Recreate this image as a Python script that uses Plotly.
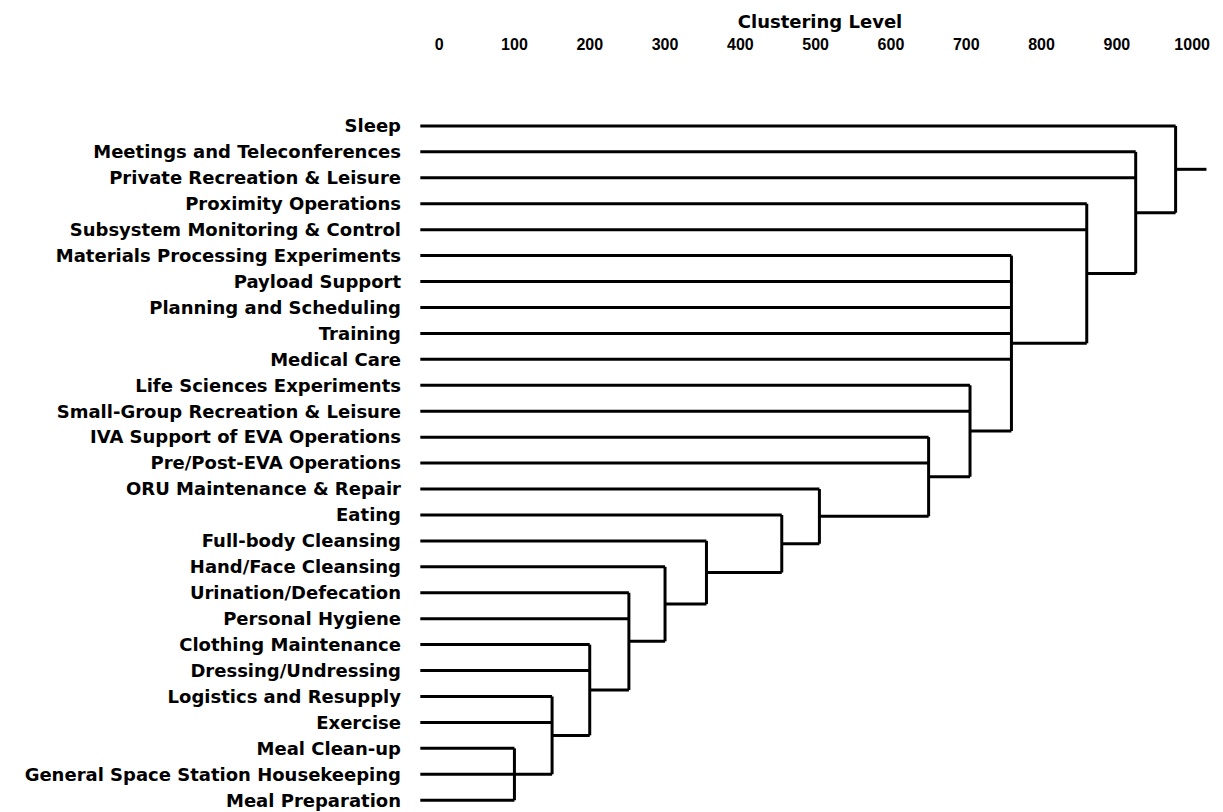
import plotly.graph_objects as go

# leaves, top to bottom
ACTIVIDADES = [
    "Sleep",
    "Meetings and Teleconferences",
    "Private Recreation & Leisure",
    "Proximity Operations",
    "Subsystem Monitoring & Control",
    "Materials Processing Experiments",
    "Payload Support",
    "Planning and Scheduling",
    "Training",
    "Medical Care",
    "Life Sciences Experiments",
    "Small-Group Recreation & Leisure",
    "IVA Support of EVA Operations",
    "Pre/Post-EVA Operations",
    "ORU Maintenance & Repair",
    "Eating",
    "Full-body Cleansing",
    "Hand/Face Cleansing",
    "Urination/Defecation",
    "Personal Hygiene",
    "Clothing Maintenance",
    "Dressing/Undressing",
    "Logistics and Resupply",
    "Exercise",
    "Meal Clean-up",
    "General Space Station Housekeeping",
    "Meal Preparation",
]

# clusters, in merge order
CLUSTERS = ["c_meal", "c_log", "c_cloth", "c_uri", "c_hand", "c_full", "c_eat",
            "c_oru", "c_iva", "c_life", "c_mat", "c_prox", "c_meet", "root"]

CLUSTER_LEVEL = [100, 150, 200, 252, 300, 355, 455,
                 505, 650, 705, 760, 860, 925, 978]

CLUSTER_MEMBERS = [
    ["Meal Clean-up", "General Space Station Housekeeping", "Meal Preparation"],
    ["Logistics and Resupply", "Exercise", "c_meal"],
    ["Clothing Maintenance", "Dressing/Undressing", "c_log"],
    ["Urination/Defecation", "Personal Hygiene", "c_cloth"],
    ["Hand/Face Cleansing", "c_uri"],
    ["Full-body Cleansing", "c_hand"],
    ["Eating", "c_full"],
    ["ORU Maintenance & Repair", "c_eat"],
    ["IVA Support of EVA Operations", "Pre/Post-EVA Operations", "c_oru"],
    ["Life Sciences Experiments", "Small-Group Recreation & Leisure", "c_iva"],
    ["Materials Processing Experiments", "Payload Support", "Planning and Scheduling",
     "Training", "Medical Care", "c_life"],
    ["Proximity Operations", "Subsystem Monitoring & Control", "c_mat"],
    ["Meetings and Teleconferences", "Private Recreation & Leisure", "c_prox"],
    ["Sleep", "c_meet"],
]

NIVEL_INICIO = -25     # leaves start a bit left of 0
NIVEL_RAIZ = 1019      # end of root stub
TICKS_X = list(range(0, 1001, 100))


# ===============================
# POSICIONES DEL DENDROGRAMA
# ===============================
pos_y = {nombre: i for i, nombre in enumerate(ACTIVIDADES)}
nivel = {nombre: NIVEL_INICIO for nombre in ACTIVIDADES}
padre = {}

for nombre, lvl, miembros in zip(CLUSTERS, CLUSTER_LEVEL, CLUSTER_MEMBERS):
    ys = [pos_y[m] for m in miembros]
    pos_y[nombre] = (min(ys) + max(ys)) / 2
    nivel[nombre] = lvl
    for m in miembros:
        padre[m] = nombre

xs, ys = [], []

# horizontal segments: node -> parent level
for nombre in list(ACTIVIDADES) + CLUSTERS:
    x0 = nivel[nombre]
    x1 = nivel[padre[nombre]] if nombre in padre else NIVEL_RAIZ
    xs += [x0, x1, None]
    ys += [pos_y[nombre], pos_y[nombre], None]

# vertical segments
for nombre, lvl, miembros in zip(CLUSTERS, CLUSTER_LEVEL, CLUSTER_MEMBERS):
    yy = [pos_y[m] for m in miembros]
    xs += [lvl, lvl, None]
    ys += [min(yy), max(yy), None]

fig = go.Figure()

fig.add_trace(
    go.Scatter(
        x=xs,
        y=ys,
        mode="lines",
        line=dict(color="black", width=3),
        hoverinfo="skip",
        showlegend=False
    )
)

# page has an 8px body margin, so the figure is 8px smaller on each side
W, H = 1215, 804
M_L, M_R, M_T, M_B = 401, 12, 92, 4

fig.update_layout(
    template="none",
    width=W,
    height=H,
    margin=dict(l=M_L, r=M_R, t=M_T, b=M_B),
    paper_bgcolor="white",
    plot_bgcolor="white",
    title=dict(
        text="Clustering Level",
        x=0.5125,
        xref="paper",
        xanchor="center",
        y=1 - 14 / H,
        yref="container",
        yanchor="middle",
        font=dict(family="DejaVu Sans", size=18, weight="bold", color="black")
    ),
    xaxis=dict(
        side="top",
        range=[-40, 1025],
        tickvals=TICKS_X,
        ticktext=[str(v) for v in TICKS_X],
        tickfont=dict(family="Liberation Sans", size=16, weight="bold", color="black"),
        ticks="",
        ticklabelstandoff=46,
        showgrid=False,
        zeroline=False,
        showline=False,
        automargin=False
    ),
    yaxis=dict(
        range=[26.3, -1],
        tickvals=list(range(len(ACTIVIDADES))),
        ticktext=ACTIVIDADES,
        tickfont=dict(family="DejaVu Sans", size=18, weight="bold", color="black"),
        ticks="",
        ticklabelstandoff=7,
        showgrid=False,
        zeroline=False,
        showline=False,
        automargin=False
    )
)

fig.write_html("out.html")
